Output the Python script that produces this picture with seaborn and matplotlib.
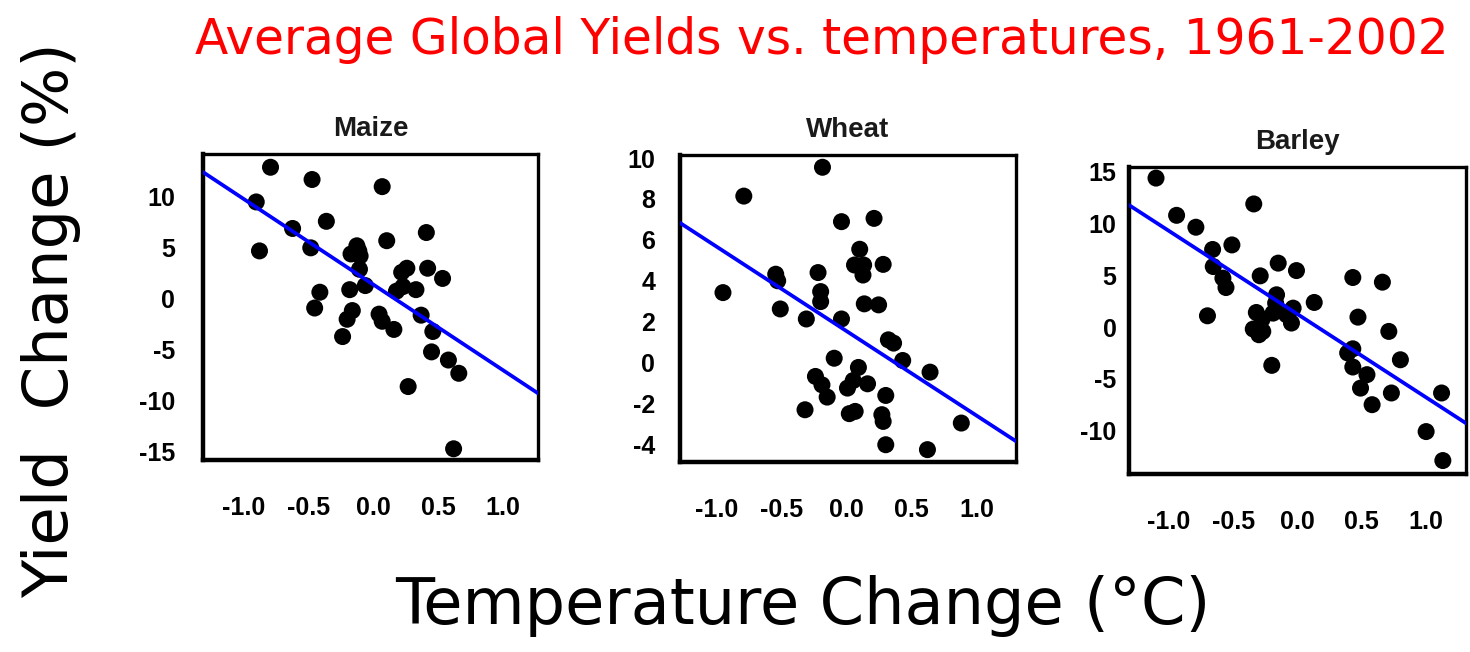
import numpy as np
import pandas as pd
import matplotlib
matplotlib.use("Agg")
import matplotlib.pyplot as plt
import seaborn as sns

# ---------------- data ----------------
crops = ["Maize", "Wheat", "Barley"]

maize_x = [-0.79, -0.90, -0.875, -0.47, -0.62, -0.48, -0.36, -0.41, -0.45, 0.07,
           0.105, -0.125, -0.17, -0.10, -0.105, -0.18, -0.06, -0.16, -0.20, -0.235,
           0.046, 0.07, 0.16, 0.22, 0.26, 0.18, 0.23, 0.33, 0.37, 0.41,
           0.42, 0.535, 0.46, 0.45, 0.58, 0.66, 0.27, 0.62, -0.11]
maize_y = [12.9, 9.5, 4.7, 11.7, 6.9, 5.0, 7.6, 0.65, -0.9, 11.0,
           5.7, 5.2, 4.4, 4.2, 2.9, 0.9, 1.3, -1.15, -2.0, -3.7,
           -1.5, -2.2, -3.0, 2.6, 3.0, 0.75, 1.2, 0.9, -1.6, 6.5,
           3.0, 2.0, -3.2, -5.2, -6.0, -7.3, -8.6, -14.7, 4.7]

wheat_x = [-0.186, -0.79, -0.95, -0.545, -0.53, -0.51, -0.31, -0.22, -0.20, -0.20,
           -0.04, -0.04, 0.21, 0.10, 0.06, 0.13, 0.125, 0.28, 0.135, 0.245,
           0.32, 0.36, 0.43, 0.64, 0.88, 0.62, 0.30, 0.28, 0.27, 0.30,
           0.16, 0.09, 0.05, 0.006, 0.02, 0.065, -0.096, -0.24, -0.19, -0.15, -0.32]
wheat_y = [9.55, 8.14, 3.42, 4.32, 4.0, 2.62, 2.13, 4.4, 3.47, 2.98,
           2.13, 6.89, 7.05, 5.54, 4.77, 4.77, 4.28, 4.8, 2.87, 2.82,
           1.11, 0.95, 0.1, -0.47, -2.96, -4.26, -4.02, -2.88, -2.55, -1.61,
           -1.04, -0.24, -0.88, -1.25, -2.5, -2.39, 0.21, -0.68, -1.09, -1.69, -2.31]

barley_x = [-1.10, -0.94, -0.79, -0.51, -0.66, -0.655, -0.58, -0.556, -0.70, -0.34,
            -0.29, -0.15, -0.008, -0.163, -0.17, -0.034, 0.13, -0.32, -0.19, -0.085,
            -0.047, -0.344, -0.27, -0.30, -0.275, -0.20, 0.43, 0.66, 0.47, 0.71,
            0.80, 0.43, 0.39, 0.43, 0.54, 0.49, 0.58, 0.73, 1.12, 1.0, 1.13]
barley_y = [14.4, 10.8, 9.65, 7.94, 7.5, 5.85, 4.73, 3.82, 1.09, 11.9,
            4.95, 6.18, 5.46, 3.12, 2.32, 1.83, 2.38, 1.41, 1.35, 1.19,
            0.39, -0.19, -0.42, -0.74, 0.77, -3.7, 4.79, 4.34, 0.96, -0.42,
            -3.16, -2.1, -2.5, -3.86, -4.6, -5.9, -7.5, -6.37, -6.37, -10.1, -12.9]

x_ticks = [-1.0, -0.5, 0.0, 0.5, 1.0]
maize_yticks = [10, 5, 0, -5, -10, -15]
wheat_yticks = [10, 8, 6, 4, 2, 0, -2, -4]
barley_yticks = [15, 10, 5, 0, -5, -10]

title_text = "Average Global Yields vs. temperatures, 1961-2002"
ylabel_text = "Yield  Change (%)"
xlabel_text = "Temperature Change (°C)"

# ---------------- figure ----------------
sns.set_theme(style="white")
plt.rcParams["font.family"] = ["DejaVu Sans"]

fig = plt.figure(figsize=(14.7, 6.52), dpi=100)

panels = [
    (maize_x, maize_y, maize_yticks, [203/1470, 1-460/652, 335/1470, 306/652],
     (-1.31, 1.27), (-15.8, 14.2), 20),
    (wheat_x, wheat_y, wheat_yticks, [680/1470, 1-461.7/652, 336/1470, 306.7/652],
     (-1.28, 1.30), (-4.85, 10.15), 18),
    (barley_x, barley_y, barley_yticks, [1129/1470, 1-474/652, 337/1470, 307.3/652],
     (-1.31, 1.31), (-14.2, 15.5), 9),
]

for name, (xs, ys, yt, rect, xl, yl, ypad) in zip(crops, panels):
    ax = fig.add_axes(rect)
    df = pd.DataFrame({"temp": xs, "yield": ys})
    ax.set_xlim(*xl)
    ax.set_ylim(*yl)
    sns.regplot(data=df, x="temp", y="yield", ax=ax, ci=None, truncate=False,
                scatter_kws=dict(s=150, color="black", edgecolor="none", alpha=1, zorder=3),
                line_kws=dict(color="#0000ff", lw=2.7, zorder=4))
    ax.set_xlim(*xl)
    ax.set_ylim(*yl)
    ax.set_xlabel("")
    ax.set_ylabel("")
    ax.set_xticks(x_ticks)
    ax.set_xticklabels([f"{v:.1f}" for v in x_ticks])
    ax.set_yticks(yt)
    ax.set_yticklabels([str(v) for v in yt])
    for lab in ax.get_xticklabels() + ax.get_yticklabels():
        lab.set_family("Liberation Sans")
        lab.set_fontweight("bold")
        lab.set_fontsize(18)
    ax.tick_params(axis="x", direction="in", length=9, width=2.8, pad=26, colors="black")
    ax.tick_params(axis="y", direction="in", length=9, width=2.8, pad=ypad, colors="black")
    for side, sp in ax.spines.items():
        sp.set_visible(True)
        sp.set_color("black")
        sp.set_linewidth(3.2 if side in ("left", "bottom") else 2.4)
    ax.set_title(name, family="Liberation Sans", fontweight="bold", fontsize=20,
                 color="#1a1a1a", pad=13)

fig.text(0.559, 0.939, title_text, color="#ff0000", fontsize=35,
         ha="center", va="center")
fig.text(0.035, 0.509, ylabel_text, color="black", fontsize=45, rotation=90,
         ha="center", va="center")
fig.text(0.546, 0.07, xlabel_text, color="black", fontsize=46,
         ha="center", va="center")

fig.savefig("out.png", dpi=100, facecolor="white")
